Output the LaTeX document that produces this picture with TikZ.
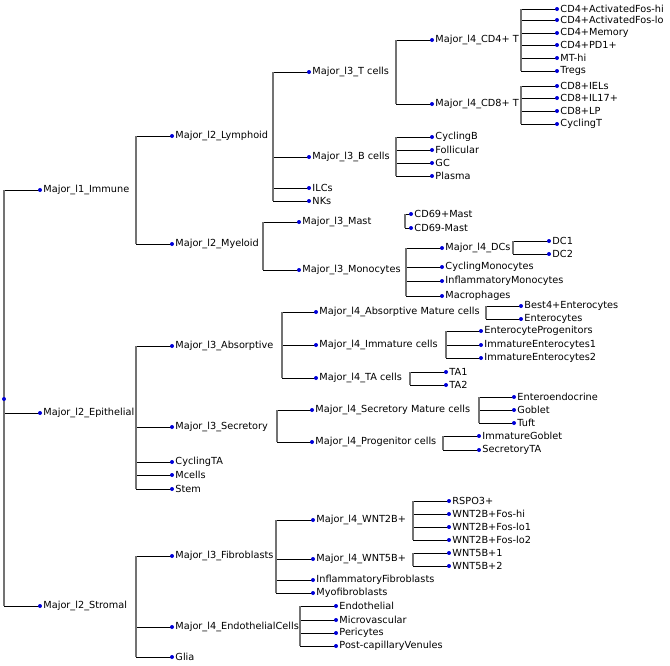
\documentclass[tikz,border=0pt]{standalone}
\usepackage{fontspec}
\setmainfont{DejaVu Sans}
\begin{document}
\begin{tikzpicture}[x=0.75pt,y=-0.75pt,
  lab/.style={anchor=west,inner sep=0pt,xshift=2.4pt,font=\fontsize{7.3}{8}\selectfont},
  vl/.style={draw=black!55,line width=1.1pt},
  hl/.style={draw=black,line width=0.6pt}]
\useasboundingbox (0,0) rectangle (670,665);
\newcommand\nd[4]{\coordinate (#1) at (#2,#3); \node[lab] (#1-t) at (#1) {#4};}
\newcommand\vv[3]{\draw[vl] (#1,#2) -- (#1,#3);}
\newcommand\ee[2]{\draw[hl] (#1,0 |- #2) -- (#2);}
% nodes
\coordinate (root) at (4,399);
\nd{imm}{40}{190}{Major\_l1\_Immune}
\nd{epi}{40}{413}{Major\_l2\_Epithelial}
\nd{str}{40}{606}{Major\_l2\_Stromal}
\nd{lym}{172}{136}{Major\_l2\_Lymphoid}
\nd{mye}{172}{244}{Major\_l2\_Myeloid}
\nd{tc}{309}{72}{Major\_l3\_T cells}
\nd{bc}{309}{157}{Major\_l3\_B cells}
\nd{ilc}{309}{188}{ILCs}
\nd{nk}{309}{201}{NKs}
\nd{cd4}{432}{40}{Major\_l4\_CD4+ T}
\nd{cd8}{432}{104}{Major\_l4\_CD8+ T}
\nd{a1}{557}{9}{CD4+ActivatedFos-hi}
\nd{a2}{557}{20}{CD4+ActivatedFos-lo}
\nd{a3}{557}{33}{CD4+Memory}
\nd{a4}{557}{45}{CD4+PD1+}
\nd{a5}{557}{58}{MT-hi}
\nd{a6}{557}{71}{Tregs}
\nd{b1}{557}{86}{CD8+IELs}
\nd{b2}{557}{98}{CD8+IL17+}
\nd{b3}{557}{111}{CD8+LP}
\nd{b4}{557}{124}{CyclingT}
\nd{c1}{432}{137}{CyclingB}
\nd{c2}{432}{150}{Follicular}
\nd{c3}{432}{163}{GC}
\nd{c4}{432}{176}{Plasma}
\nd{mast}{299}{222}{Major\_l3\_Mast}
\nd{mono}{299}{270}{Major\_l3\_Monocytes}
\nd{m1}{411}{214}{CD69+Mast}
\nd{m2}{411}{228}{CD69-Mast}
\nd{dcs}{442}{248}{Major\_l4\_DCs}
\nd{o1}{442}{267}{CyclingMonocytes}
\nd{o2}{442}{281}{InflammatoryMonocytes}
\nd{o3}{442}{296}{Macrophages}
\nd{d1}{549}{241}{DC1}
\nd{d2}{549}{254}{DC2}
\nd{abs}{172}{346}{Major\_l3\_Absorptive}
\nd{sec}{172}{427}{Major\_l3\_Secretory}
\nd{cta}{172}{462}{CyclingTA}
\nd{mc}{172}{475}{Mcells}
\nd{stem}{172}{489}{Stem}
\nd{am}{316}{312}{Major\_l4\_Absorptive Mature cells}
\nd{im}{316}{345}{Major\_l4\_Immature cells}
\nd{ta}{316}{378}{Major\_l4\_TA cells}
\nd{e1}{521}{306}{Best4+Enterocytes}
\nd{e2}{521}{319}{Enterocytes}
\nd{i1}{481}{331}{EnterocyteProgenitors}
\nd{i2}{481}{345}{ImmatureEnterocytes1}
\nd{i3}{481}{358}{ImmatureEnterocytes2}
\nd{t1}{446}{372}{TA1}
\nd{t2}{446}{385}{TA2}
\nd{sm}{312}{410}{Major\_l4\_Secretory Mature cells}
\nd{pc}{312}{442}{Major\_l4\_Progenitor cells}
\nd{s1}{514}{397}{Enteroendocrine}
\nd{s2}{514}{410}{Goblet}
\nd{s3}{514}{423}{Tuft}
\nd{p1}{479}{436}{ImmatureGoblet}
\nd{p2}{479}{450}{SecretoryTA}
\nd{fib}{172}{556}{Major\_l3\_Fibroblasts}
\nd{endo}{172}{627}{Major\_l4\_EndothelialCells}
\nd{glia}{172}{657}{Glia}
\nd{w2}{313}{520}{Major\_l4\_WNT2B+}
\nd{w5}{313}{559}{Major\_l4\_WNT5B+}
\nd{if}{313}{580}{InflammatoryFibroblasts}
\nd{my}{313}{593}{Myofibroblasts}
\nd{w21}{449}{501}{RSPO3+}
\nd{w22}{449}{514}{WNT2B+Fos-hi}
\nd{w23}{449}{527}{WNT2B+Fos-lo1}
\nd{w24}{449}{540}{WNT2B+Fos-lo2}
\nd{w51}{449}{553}{WNT5B+1}
\nd{w52}{449}{566}{WNT5B+2}
\nd{n1}{336}{606}{Endothelial}
\nd{n2}{336}{620}{Microvascular}
\nd{n3}{336}{633}{Pericytes}
\nd{n4}{336}{646}{Post-capillaryVenules}
% edges
\foreach \c in {imm,epi,str}{\ee{4}{\c}}
\vv{4}{190}{606}
\foreach \c in {lym,mye}{\ee{136}{\c}} \vv{136}{136}{244}
\foreach \c in {tc,bc,ilc,nk}{\ee{273}{\c}} \vv{273}{72}{201}
\foreach \c in {cd4,cd8}{\ee{396}{\c}} \vv{396}{40}{104}
\foreach \c in {a1,a2,a3,a4,a5,a6}{\ee{521}{\c}} \vv{521}{9}{71}
\foreach \c in {b1,b2,b3,b4}{\ee{521}{\c}} \vv{521}{86}{124}
\foreach \c in {c1,c2,c3,c4}{\ee{396}{\c}} \vv{396}{137}{176}
\foreach \c in {mast,mono}{\ee{263}{\c}} \vv{263}{222}{270}
\foreach \c in {m1,m2}{\ee{405}{\c}} \vv{405}{214}{228}
\foreach \c in {dcs,o1,o2,o3}{\ee{406}{\c}} \vv{406}{248}{296}
\foreach \c in {d1,d2}{\ee{513}{\c}} \vv{513}{241}{254}
\foreach \c in {abs,sec,cta,mc,stem}{\ee{136}{\c}} \vv{136}{346}{489}
\foreach \c in {am,im,ta}{\ee{282}{\c}} \vv{282}{312}{378}
\foreach \c in {e1,e2}{\ee{486}{\c}} \vv{486}{306}{319}
\foreach \c in {i1,i2,i3}{\ee{446}{\c}} \vv{446}{331}{358}
\foreach \c in {t1,t2}{\ee{410}{\c}} \vv{410}{372}{385}
\foreach \c in {sm,pc}{\ee{277}{\c}} \vv{277}{410}{442}
\foreach \c in {s1,s2,s3}{\ee{479}{\c}} \vv{479}{397}{423}
\foreach \c in {p1,p2}{\ee{443}{\c}} \vv{443}{436}{450}
\foreach \c in {fib,endo,glia}{\ee{136}{\c}} \vv{136}{556}{657}
\foreach \c in {w2,w5,if,my}{\ee{276}{\c}} \vv{276}{520}{593}
\foreach \c in {w21,w22,w23,w24}{\ee{413}{\c}} \vv{413}{501}{540}
\foreach \c in {w51,w52}{\ee{413}{\c}} \vv{413}{553}{566}
\foreach \c in {n1,n2,n3,n4}{\ee{300}{\c}} \vv{300}{606}{646}
% dots
\foreach \c in {root,imm,epi,str,lym,mye,tc,bc,ilc,nk,cd4,cd8,a1,a2,a3,a4,a5,a6,b1,b2,b3,b4,c1,c2,c3,c4,mast,mono,m1,m2,dcs,o1,o2,o3,d1,d2,abs,sec,cta,mc,stem,am,im,ta,e1,e2,i1,i2,i3,t1,t2,sm,pc,s1,s2,s3,p1,p2,fib,endo,glia,w2,w5,if,my,w21,w22,w23,w24,w51,w52,n1,n2,n3,n4}
  {\fill[blue!85!black] (\c) circle[radius=1.5pt];}
\end{tikzpicture}
\end{document}
